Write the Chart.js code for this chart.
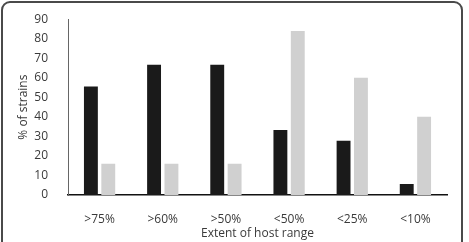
<!DOCTYPE html>
<html>
<head>
<meta charset="utf-8">
<script src="https://cdn.jsdelivr.net/npm/chart.js@4/dist/chart.umd.min.js"></script>
<style>
    html, body { margin: 0; padding: 0; background: #fff; }
    #wrap { position: relative; width: 469px; height: 242px; overflow: hidden; }
    #frame {
        position: absolute; left: 1px; top: 1px; width: 462px; height: 270px;
        border: 2px solid #4a4a4a; border-radius: 9px; box-sizing: border-box;
    }
    canvas { position: absolute; left: 0; top: 0; }
</style>
</head>
<body>
<div id="wrap">
    <canvas id="chart" width="469" height="242"></canvas>
    <div id="frame"></div>
</div>
<script>
// host range categories and percentages
const categories = ['>75%', '>60%', '>50%', '<50%', '<25%', '<10%'];
const seriesDark = [55.6, 66.7, 66.7, 33.3, 27.8, 5.6];
const seriesLight = [16, 16, 16, 84, 60, 40];
const yTicks = [0, 10, 20, 30, 40, 50, 60, 70, 80, 90];

const font = { family: 'Open Sans', size: 12 };
const textColor = '#3a3a3a';

new Chart(document.getElementById('chart'), {
    type: 'bar',
    data: {
        labels: categories,
        datasets: [
            { data: seriesDark, backgroundColor: '#1a1a1a', barPercentage: 0.8, categoryPercentage: 0.55 },
            { data: seriesLight, backgroundColor: '#d0d0d0', barPercentage: 0.8, categoryPercentage: 0.55 }
        ]
    },
    options: {
        responsive: false,
        animation: false,
        layout: { padding: { left: 0, right: 22, top: 17, bottom: 0 } },
        plugins: { legend: { display: false }, tooltip: { enabled: false } },
        scales: {
            x: {
                grid: { display: false },
                border: { display: true, color: '#111', width: 1.5 },
                ticks: { color: textColor, font: font, padding: 9 },
                title: { display: true, text: 'Extent of host range', color: textColor, font: font, padding: 1 },
                afterFit: s => { s.height = 47; }
            },
            y: {
                min: 0,
                max: yTicks[yTicks.length - 1],
                grid: { display: false },
                border: { display: true, color: '#666', width: 1 },
                afterBuildTicks: s => { s.ticks = yTicks.map(v => ({ value: v })); },
                ticks: { color: textColor, font: font, padding: 12 },
                title: { display: true, text: '% of strains', color: textColor, font: font, padding: 16 },
                afterFit: s => { s.width = 68; }
            }
        }
    }
});
</script>
</body>
</html>
